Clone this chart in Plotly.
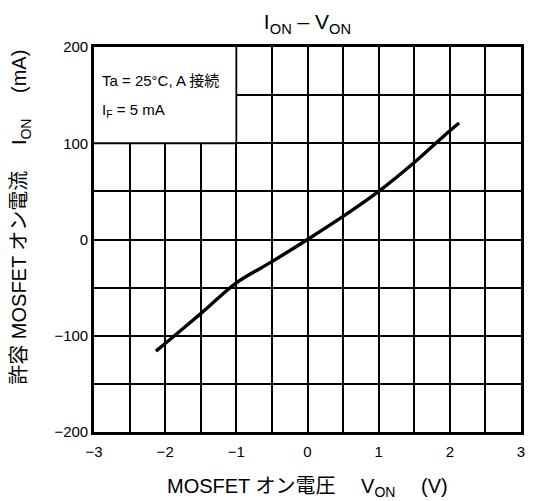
import plotly.graph_objects as go

# Data
v_on = [-2.13, -2.0, -1.5, -1.0, -0.5, 0.0, 0.5, 1.0, 1.5, 2.0, 2.13]
i_on = [-116, -108, -77, -45, -23, 0, 24, 50, 80, 113, 121]

x_ticks = [-3, -2, -1, 0, 1, 2, 3]
y_ticks = [-200, -100, 0, 100, 200]

FONT = "Liberation Sans, Arial, Noto Sans CJK JP, sans-serif"

fig = go.Figure()
fig.add_trace(go.Scatter(
    x=v_on, y=i_on, mode="lines",
    line=dict(color="black", width=3.4, shape="spline", smoothing=0.9),
    hoverinfo="skip", showlegend=False,
))

axis_common = dict(
    showline=True, linecolor="black", linewidth=2.6, mirror=True,
    showgrid=True, gridcolor="black", gridwidth=1.8,
    zeroline=False, ticks="", automargin=False,
    tickfont=dict(size=15, color="black", family=FONT),
)
fig.update_xaxes(range=[-3, 3], tickvals=x_ticks, ticklabelstandoff=4,
                 minor=dict(dtick=0.5, showgrid=True, gridcolor="black", gridwidth=1.5),
                 **axis_common)
fig.update_yaxes(range=[-200, 200], tickvals=y_ticks, ticklabelstandoff=0,
                 minor=dict(dtick=50, showgrid=True, gridcolor="black", gridwidth=1.5),
                 **axis_common)

# White box behind the condition text
fig.add_shape(type="rect", xref="x", yref="y", x0=-3, x1=-1, y0=100, y1=200,
              fillcolor="white", line=dict(width=0), layer="between")
fig.add_shape(type="line", xref="x", yref="y", x0=-3, x1=-1, y0=100, y1=100,
              line=dict(color="black", width=1.8), layer="between")
fig.add_shape(type="line", xref="x", yref="y", x0=-1, x1=-1, y0=100, y1=200,
              line=dict(color="black", width=1.8), layer="between")

fig.add_annotation(x=-2.91, y=165, xref="x", yref="y", xanchor="left", yanchor="middle",
                   text="Ta = 25°C, A 接続", showarrow=False,
                   font=dict(size=15, color="black", family=FONT))
fig.add_annotation(x=-2.91, y=134, xref="x", yref="y", xanchor="left", yanchor="middle",
                   text="I<sub>F</sub> = 5 mA", showarrow=False,
                   font=dict(size=15, color="black", family=FONT))

# Axis titles
fig.add_annotation(x=0.5, y=-0.145, xref="paper", yref="paper", xanchor="center", yanchor="middle",
                   text="MOSFET オン電圧　 V<sub>ON</sub> 　(V)", showarrow=False,
                   font=dict(size=20, color="black", family=FONT))
fig.add_annotation(x=-0.172, y=0.558, xref="paper", yref="paper", xanchor="center", yanchor="middle",
                   text="許容 MOSFET オン電流　 I<sub>ON</sub> 　(mA)", showarrow=False, textangle=-90,
                   font=dict(size=20, color="black", family=FONT))

fig.update_layout(
    width=532, height=493,
    margin=dict(l=86, r=19, t=39, b=69),
    paper_bgcolor="white", plot_bgcolor="white",
    title=dict(text="I<sub>ON</sub> – V<sub>ON</sub>", x=0.5, xref="paper", xanchor="center",
               y=0.9716, yref="container", yanchor="middle",
               font=dict(size=21, color="black", family=FONT)),
    font=dict(family=FONT, color="black"),
)

fig.write_html("out.html")
